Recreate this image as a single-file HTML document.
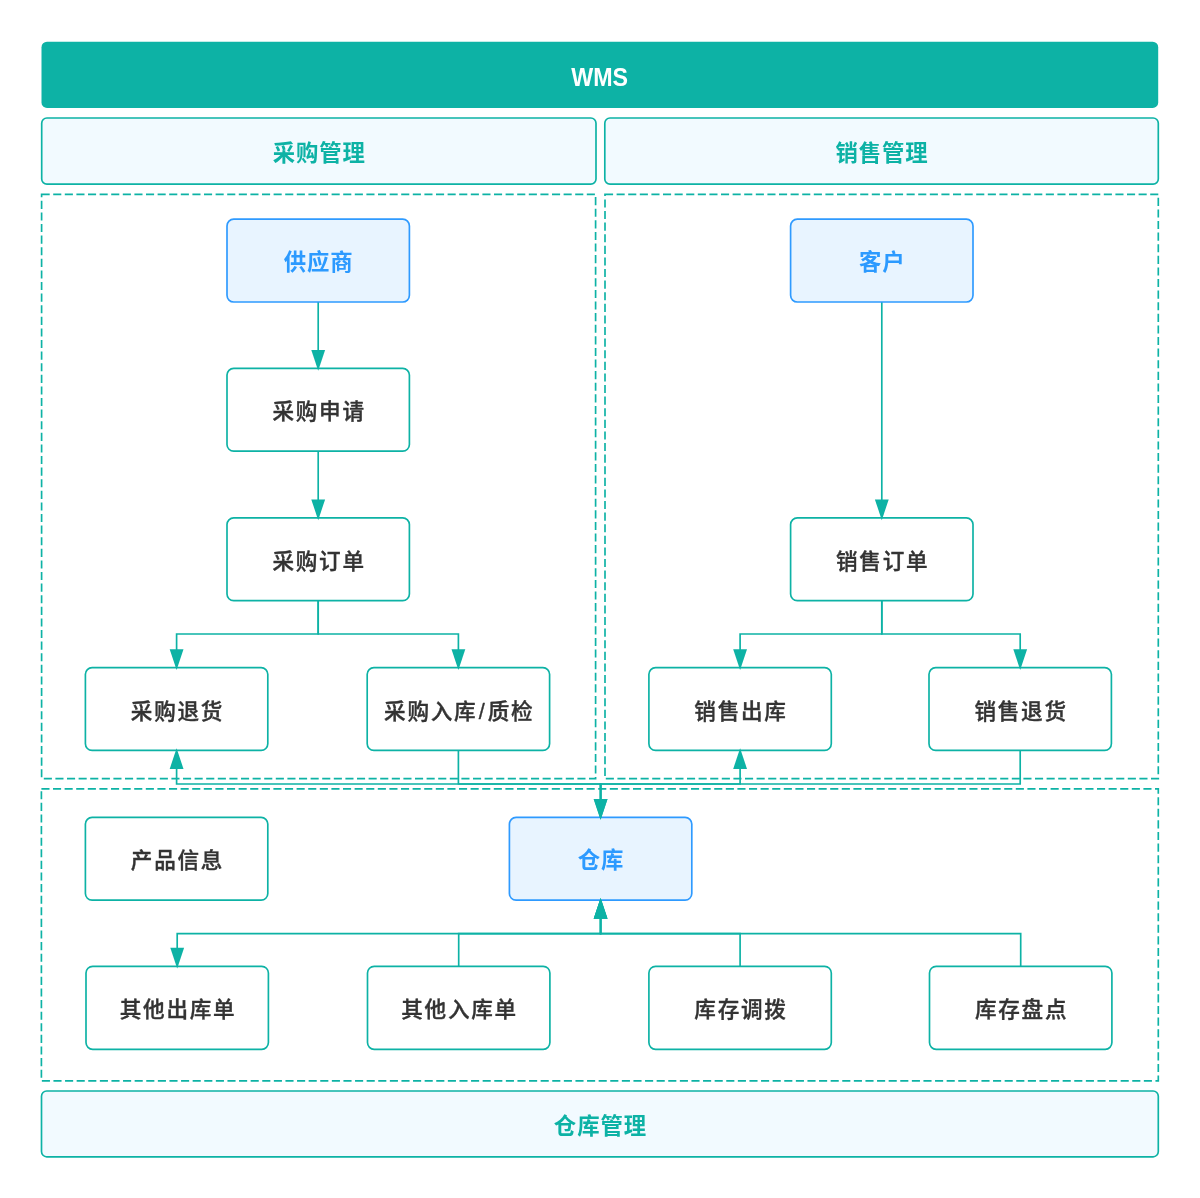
<!DOCTYPE html>
<html lang="zh-CN">
<head>
<meta charset="utf-8">
<title>WMS</title>
<style>
html,body{margin:0;padding:0;background:#fff;}
body{width:1200px;height:1198px;overflow:hidden;}
svg{display:block;will-change:transform;}
svg text{font-family:"Liberation Sans", "Noto Sans CJK SC", sans-serif;text-anchor:middle;dominant-baseline:central;}
</style>
</head>
<body>
<svg width="1200" height="1198" viewBox="0 0 1200 1198">
<rect x="0" y="0" width="1200" height="1198" fill="#FFFFFF"/>
<rect x="41.50" y="41.65" width="1116.70" height="66.25" rx="5.5" ry="5.5" fill="#0DB2A5"/>
<text x="599.70" y="77.40" fill="#FFFFFF" font-weight="700" font-size="25" letter-spacing="0.00" textLength="56.8" lengthAdjust="spacingAndGlyphs">WMS</text>
<rect x="41.70" y="118.00" width="554.30" height="66.10" rx="5.2" ry="5.2" fill="#F2FAFF" stroke="#0DB2A5" stroke-width="1.67"/>
<text x="319.25" y="153.60" fill="#0DB2A5" font-weight="700" font-size="22.4" letter-spacing="0.90">采购管理</text>
<rect x="604.80" y="118.00" width="553.50" height="66.10" rx="5.2" ry="5.2" fill="#F2FAFF" stroke="#0DB2A5" stroke-width="1.67"/>
<text x="882.05" y="153.60" fill="#0DB2A5" font-weight="700" font-size="22.4" letter-spacing="0.90">销售管理</text>
<rect x="41.50" y="1091.00" width="1116.80" height="65.80" rx="5.2" ry="5.2" fill="#F2FAFF" stroke="#0DB2A5" stroke-width="1.67"/>
<text x="600.45" y="1126.50" fill="#0DB2A5" font-weight="700" font-size="22.4" letter-spacing="0.90">仓库管理</text>
<rect x="41.60" y="194.30" width="554.00" height="584.30" rx="0" ry="0" fill="none" stroke="#0DB2A5" stroke-width="1.67" stroke-dasharray="8.1 3.5"/>
<rect x="605.00" y="194.30" width="553.30" height="584.30" rx="0" ry="0" fill="none" stroke="#0DB2A5" stroke-width="1.67" stroke-dasharray="8.1 3.5"/>
<rect x="41.40" y="788.85" width="1116.90" height="291.95" rx="0" ry="0" fill="none" stroke="#0DB2A5" stroke-width="1.67" stroke-dasharray="8.1 3.5"/>
<path d="M318.20 302.00 L318.20 358.40" fill="none" stroke="#0DB2A5" stroke-width="1.67" stroke-linejoin="miter"/>
<path d="M318.20 451.20 L318.20 507.90" fill="none" stroke="#0DB2A5" stroke-width="1.67" stroke-linejoin="miter"/>
<path d="M881.80 302.00 L881.80 507.90" fill="none" stroke="#0DB2A5" stroke-width="1.67" stroke-linejoin="miter"/>
<path d="M318.20 600.70 L318.20 634.00 L176.60 634.00 L176.60 657.65" fill="none" stroke="#0DB2A5" stroke-width="1.67" stroke-linejoin="miter"/>
<path d="M318.20 600.70 L318.20 634.00 L458.40 634.00 L458.40 657.65" fill="none" stroke="#0DB2A5" stroke-width="1.67" stroke-linejoin="miter"/>
<path d="M881.80 600.70 L881.80 634.00 L740.10 634.00 L740.10 657.65" fill="none" stroke="#0DB2A5" stroke-width="1.67" stroke-linejoin="miter"/>
<path d="M881.80 600.70 L881.80 634.00 L1020.20 634.00 L1020.20 657.65" fill="none" stroke="#0DB2A5" stroke-width="1.67" stroke-linejoin="miter"/>
<path d="M458.40 750.45 L458.40 784.00 L600.60 784.00 L600.60 807.40" fill="none" stroke="#0DB2A5" stroke-width="1.67" stroke-linejoin="miter"/>
<path d="M1020.20 750.45 L1020.20 784.00 L600.60 784.00 L600.60 807.40" fill="none" stroke="#0DB2A5" stroke-width="1.67" stroke-linejoin="miter"/>
<path d="M600.60 817.40 L600.60 784.00 L176.60 784.00 L176.60 760.45" fill="none" stroke="#0DB2A5" stroke-width="1.67" stroke-linejoin="miter"/>
<path d="M600.60 817.40 L600.60 784.00 L740.10 784.00 L740.10 760.45" fill="none" stroke="#0DB2A5" stroke-width="1.67" stroke-linejoin="miter"/>
<path d="M600.60 900.20 L600.60 933.70 L177.20 933.70 L177.20 956.30" fill="none" stroke="#0DB2A5" stroke-width="1.67" stroke-linejoin="miter"/>
<path d="M458.70 966.30 L458.70 933.70 L600.60 933.70 L600.60 910.20" fill="none" stroke="#0DB2A5" stroke-width="1.67" stroke-linejoin="miter"/>
<path d="M740.10 966.30 L740.10 933.70 L600.60 933.70 L600.60 910.20" fill="none" stroke="#0DB2A5" stroke-width="1.67" stroke-linejoin="miter"/>
<path d="M1020.70 966.30 L1020.70 933.70 L600.60 933.70 L600.60 910.20" fill="none" stroke="#0DB2A5" stroke-width="1.67" stroke-linejoin="miter"/>
<rect x="227.00" y="219.20" width="182.40" height="82.80" rx="6.7" ry="6.7" fill="#E8F4FF" stroke="#2E9AFF" stroke-width="1.67"/>
<text x="318.65" y="262.20" fill="#2C9AFF" font-weight="700" font-size="22.4" letter-spacing="0.90">供应商</text>
<rect x="227.00" y="368.40" width="182.40" height="82.80" rx="6.7" ry="6.7" fill="#FFFFFF" stroke="#0DB2A5" stroke-width="1.67"/>
<text x="319.06" y="411.90" fill="#333333" font-weight="500" font-size="21.6" letter-spacing="1.73" stroke="#333333" stroke-width="0.38" stroke-linejoin="round">采购申请</text>
<rect x="227.00" y="517.90" width="182.40" height="82.80" rx="6.7" ry="6.7" fill="#FFFFFF" stroke="#0DB2A5" stroke-width="1.67"/>
<text x="319.06" y="561.40" fill="#333333" font-weight="500" font-size="21.6" letter-spacing="1.73" stroke="#333333" stroke-width="0.38" stroke-linejoin="round">采购订单</text>
<rect x="790.60" y="219.20" width="182.40" height="82.80" rx="6.7" ry="6.7" fill="#E8F4FF" stroke="#2E9AFF" stroke-width="1.67"/>
<text x="882.25" y="262.20" fill="#2C9AFF" font-weight="700" font-size="22.4" letter-spacing="0.90">客户</text>
<rect x="790.60" y="517.90" width="182.40" height="82.80" rx="6.7" ry="6.7" fill="#FFFFFF" stroke="#0DB2A5" stroke-width="1.67"/>
<text x="882.66" y="561.40" fill="#333333" font-weight="500" font-size="21.6" letter-spacing="1.73" stroke="#333333" stroke-width="0.38" stroke-linejoin="round">销售订单</text>
<rect x="85.40" y="667.65" width="182.40" height="82.80" rx="6.7" ry="6.7" fill="#FFFFFF" stroke="#0DB2A5" stroke-width="1.67"/>
<text x="177.47" y="711.15" fill="#333333" font-weight="500" font-size="21.6" letter-spacing="1.73" stroke="#333333" stroke-width="0.38" stroke-linejoin="round">采购退货</text>
<rect x="367.20" y="667.65" width="182.40" height="82.80" rx="6.7" ry="6.7" fill="#FFFFFF" stroke="#0DB2A5" stroke-width="1.67"/>
<text x="459.26" y="711.15" fill="#333333" font-weight="500" font-size="21.6" letter-spacing="1.73" stroke="#333333" stroke-width="0.38" stroke-linejoin="round">采购入库<tspan dx="1.3">/</tspan><tspan dx="1.3">质检</tspan></text>
<rect x="648.90" y="667.65" width="182.40" height="82.80" rx="6.7" ry="6.7" fill="#FFFFFF" stroke="#0DB2A5" stroke-width="1.67"/>
<text x="740.97" y="711.15" fill="#333333" font-weight="500" font-size="21.6" letter-spacing="1.73" stroke="#333333" stroke-width="0.38" stroke-linejoin="round">销售出库</text>
<rect x="929.00" y="667.65" width="182.40" height="82.80" rx="6.7" ry="6.7" fill="#FFFFFF" stroke="#0DB2A5" stroke-width="1.67"/>
<text x="1021.07" y="711.15" fill="#333333" font-weight="500" font-size="21.6" letter-spacing="1.73" stroke="#333333" stroke-width="0.38" stroke-linejoin="round">销售退货</text>
<rect x="85.40" y="817.40" width="182.40" height="82.80" rx="6.7" ry="6.7" fill="#FFFFFF" stroke="#0DB2A5" stroke-width="1.67"/>
<text x="177.47" y="860.90" fill="#333333" font-weight="500" font-size="21.6" letter-spacing="1.73" stroke="#333333" stroke-width="0.38" stroke-linejoin="round">产品信息</text>
<rect x="509.40" y="817.40" width="182.40" height="82.80" rx="6.7" ry="6.7" fill="#E8F4FF" stroke="#2E9AFF" stroke-width="1.67"/>
<text x="601.05" y="860.40" fill="#2C9AFF" font-weight="700" font-size="22.4" letter-spacing="0.90">仓库</text>
<rect x="86.00" y="966.30" width="182.40" height="83.00" rx="6.7" ry="6.7" fill="#FFFFFF" stroke="#0DB2A5" stroke-width="1.67"/>
<text x="178.06" y="1009.90" fill="#333333" font-weight="500" font-size="21.6" letter-spacing="1.73" stroke="#333333" stroke-width="0.38" stroke-linejoin="round">其他出库单</text>
<rect x="367.50" y="966.30" width="182.40" height="83.00" rx="6.7" ry="6.7" fill="#FFFFFF" stroke="#0DB2A5" stroke-width="1.67"/>
<text x="459.56" y="1009.90" fill="#333333" font-weight="500" font-size="21.6" letter-spacing="1.73" stroke="#333333" stroke-width="0.38" stroke-linejoin="round">其他入库单</text>
<rect x="648.90" y="966.30" width="182.40" height="83.00" rx="6.7" ry="6.7" fill="#FFFFFF" stroke="#0DB2A5" stroke-width="1.67"/>
<text x="740.97" y="1009.90" fill="#333333" font-weight="500" font-size="21.6" letter-spacing="1.73" stroke="#333333" stroke-width="0.38" stroke-linejoin="round">库存调拨</text>
<rect x="929.50" y="966.30" width="182.40" height="83.00" rx="6.7" ry="6.7" fill="#FFFFFF" stroke="#0DB2A5" stroke-width="1.67"/>
<text x="1021.57" y="1009.90" fill="#333333" font-weight="500" font-size="21.6" letter-spacing="1.73" stroke="#333333" stroke-width="0.38" stroke-linejoin="round">库存盘点</text>
<polygon points="318.20,370.70 311.30,349.90 325.10,349.90" fill="#0DB2A5"/>
<polygon points="318.20,520.20 311.30,499.40 325.10,499.40" fill="#0DB2A5"/>
<polygon points="881.80,520.20 874.90,499.40 888.70,499.40" fill="#0DB2A5"/>
<polygon points="176.60,669.95 169.70,649.15 183.50,649.15" fill="#0DB2A5"/>
<polygon points="458.40,669.95 451.50,649.15 465.30,649.15" fill="#0DB2A5"/>
<polygon points="740.10,669.95 733.20,649.15 747.00,649.15" fill="#0DB2A5"/>
<polygon points="1020.20,669.95 1013.30,649.15 1027.10,649.15" fill="#0DB2A5"/>
<polygon points="600.60,819.70 593.70,798.90 607.50,798.90" fill="#0DB2A5"/>
<polygon points="600.60,819.70 593.70,798.90 607.50,798.90" fill="#0DB2A5"/>
<polygon points="176.60,748.15 169.70,768.95 183.50,768.95" fill="#0DB2A5"/>
<polygon points="740.10,748.15 733.20,768.95 747.00,768.95" fill="#0DB2A5"/>
<polygon points="177.20,968.60 170.30,947.80 184.10,947.80" fill="#0DB2A5"/>
<polygon points="600.60,897.90 593.70,918.70 607.50,918.70" fill="#0DB2A5"/>
<polygon points="600.60,897.90 593.70,918.70 607.50,918.70" fill="#0DB2A5"/>
<polygon points="600.60,897.90 593.70,918.70 607.50,918.70" fill="#0DB2A5"/>
</svg>
</body>
</html>
